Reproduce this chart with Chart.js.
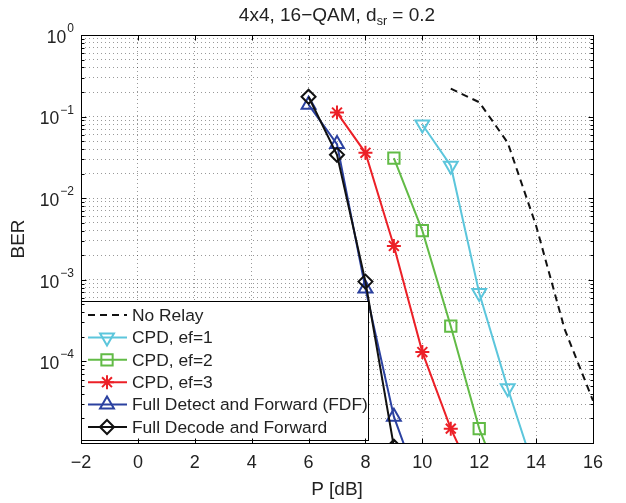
<!DOCTYPE html>
<html>
<head>
<meta charset="utf-8">
<script src="https://cdn.jsdelivr.net/npm/chart.js@4.4.1/dist/chart.umd.min.js"></script>
<style>
  html, body { margin: 0; padding: 0; background: #fff; }
  #wrap { width: 626px; height: 503px; }
</style>
</head>
<body>
<div id="wrap"><canvas id="berChart" width="626" height="503"></canvas></div>
<script>
// Valors llegits de la figura: BER per a cada potència P [dB]
const pNoRelay = [11, 12, 13, 14, 15, 16];
const berNoRelay = [0.22, 0.15, 0.048, 4.6e-3, 2.5e-4, 3.3e-5];

const pEf1 = [10, 11, 12, 13, 14];
const berEf1 = [0.08, 0.025, 6.9e-4, 4.7e-5, 4e-6];

const pEf2 = [9, 10, 11, 12, 13];
const berEf2 = [0.031, 4.0e-3, 2.7e-4, 1.5e-5, 2e-6];

const pEf3 = [7, 8, 9, 10, 11, 12];
const berEf3 = [0.112, 0.036, 2.6e-3, 1.3e-4, 1.5e-5, 2.7e-6];

const pFdf = [6, 7, 8, 9, 10];
const berFdf = [0.14, 0.046, 7.8e-4, 2.1e-5, 2.3e-6];

const pFdd = [6, 7, 8, 9];
const berFdd = [0.175, 0.034, 9.5e-4, 9e-6];

// Eixos
const xTicks = [-2, 0, 2, 4, 6, 8, 10, 12, 14, 16];
const yDecades = [0, -1, -2, -3, -4];

const noms = ['No Relay', 'CPD, ef=1', 'CPD, ef=2', 'CPD, ef=3',
  'Full Detect and Forward (FDF)', 'Full Decode and Forward'];

const FONT = '"Liberation Sans", Arial, Helvetica, sans-serif';
const TEXT = '#222';
const GRID = 'rgba(0,0,0,0.4)';

function punts(xs, ys) {
  return xs.map((x, i) => ({ x: x, y: ys[i] }));
}

// Llegenda, marc, etiquetes amb exponent i títol
const decoracio = {
  id: 'decoracio',
  afterDatasetsDraw(chart) {
    const { ctx, chartArea: a, scales: { x, y } } = chart;
    ctx.save();

    // llegenda dins de l'àrea
    const lx = a.left, ly = 301, lr = 368, lb = 440;
    ctx.setLineDash([]);
    ctx.fillStyle = '#fff';
    ctx.fillRect(lx, ly, lr - lx, lb - ly);
    ctx.strokeStyle = '#000';
    ctx.lineWidth = 1;
    ctx.strokeRect(lx + 0.5, ly + 0.5, lr - lx, lb - ly);
    chart.data.datasets.forEach((ds, i) => {
      const yy = ly + 14 + i * 22.4;
      ctx.save();
      ctx.strokeStyle = ds.borderColor;
      ctx.lineWidth = ds.borderWidth;
      ctx.setLineDash(ds.borderDash || []);
      ctx.beginPath();
      ctx.moveTo(lx + 7, yy);
      ctx.lineTo(lx + 46, yy);
      ctx.stroke();
      ctx.setLineDash([]);
      if (ds.pointRadius > 0) {
        ctx.fillStyle = 'rgba(0,0,0,0)';
        ctx.lineWidth = ds.pointBorderWidth;
        Chart.helpers.drawPoint(ctx, {
          pointStyle: ds.pointStyle,
          rotation: ds.pointRotation || 0,
          radius: ds.pointRadius,
          borderWidth: ds.pointBorderWidth
        }, lx + 26, yy);
      }
      ctx.restore();
      ctx.fillStyle = TEXT;
      ctx.font = '17.4px ' + FONT;
      ctx.textAlign = 'left';
      ctx.textBaseline = 'middle';
      ctx.fillText(ds.label, lx + 51, yy + 1);
    });

    // marc i marques cap a dins
    ctx.strokeStyle = '#000';
    ctx.lineWidth = 1;
    ctx.setLineDash([]);
    const L = Math.round(a.left) + 0.5, R = Math.round(a.right) + 0.5;
    const T = Math.round(a.top) + 0.5, B = Math.round(a.bottom) + 0.5;
    ctx.strokeRect(L, T, R - L, B - T);
    ctx.beginPath();
    xTicks.forEach(v => {
      const px = Math.round(x.getPixelForValue(v)) + 0.5;
      ctx.moveTo(px, B); ctx.lineTo(px, B - 5);
      ctx.moveTo(px, T); ctx.lineTo(px, T + 5);
    });
    y.ticks.forEach(t => {
      const py = Math.round(y.getPixelForValue(t.value)) + 0.5;
      const major = Math.abs(Math.log10(t.value) % 1) < 1e-9;
      const len = major ? 5 : 3;
      ctx.moveTo(L, py); ctx.lineTo(L + len, py);
      ctx.moveTo(R, py); ctx.lineTo(R - len, py);
    });
    ctx.stroke();

    // etiquetes de l'eix y: 10 amb exponent
    ctx.fillStyle = TEXT;
    yDecades.forEach(k => {
      const py = y.getPixelForValue(Math.pow(10, k));
      const exp = k < 0 ? '\u2212' + Math.abs(k) : String(k);
      ctx.font = '12px ' + FONT;
      const we = ctx.measureText(exp).width;
      ctx.textAlign = 'right';
      ctx.textBaseline = 'alphabetic';
      ctx.fillText(exp, 74, py - 3);
      ctx.font = '17.5px ' + FONT;
      ctx.textBaseline = 'middle';
      ctx.fillText('10', 74 - we - 1, py + 3);
    });

    // títol amb subíndex
    const parts = [['4x4, 16\u2212QAM, d', 19, 0], ['sr', 12.5, 4], [' = 0.2', 19, 0]];
    let total = 0;
    parts.forEach(p => { ctx.font = p[1] + 'px ' + FONT; total += ctx.measureText(p[0]).width; });
    let cx = (a.left + a.right) / 2 - total / 2;
    ctx.textAlign = 'left';
    ctx.textBaseline = 'alphabetic';
    parts.forEach(p => {
      ctx.font = p[1] + 'px ' + FONT;
      ctx.fillText(p[0], cx, 21 + p[2]);
      cx += ctx.measureText(p[0]).width;
    });

    ctx.restore();
  }
};

const canvas = document.getElementById('berChart');
new Chart(canvas.getContext('2d'), {
  type: 'line',
  data: {
    datasets: [
      {
        label: noms[0], data: punts(pNoRelay, berNoRelay),
        borderColor: '#111', borderWidth: 2, borderDash: [7, 5],
        pointRadius: 0, order: 5
      },
      {
        label: noms[1], data: punts(pEf1, berEf1),
        borderColor: '#5cc6dc', borderWidth: 2,
        pointStyle: 'triangle', pointRotation: 180, pointRadius: 8,
        pointBorderWidth: 2, pointBackgroundColor: 'rgba(0,0,0,0)', order: 4
      },
      {
        label: noms[2], data: punts(pEf2, berEf2),
        borderColor: '#62bb46', borderWidth: 2,
        pointStyle: 'rect', pointRadius: 8,
        pointBorderWidth: 2, pointBackgroundColor: 'rgba(0,0,0,0)', order: 3
      },
      {
        label: noms[3], data: punts(pEf3, berEf3),
        borderColor: '#ec2027', borderWidth: 2,
        pointStyle: 'star', pointRadius: 7,
        pointBorderWidth: 2, pointBackgroundColor: 'rgba(0,0,0,0)', order: 2
      },
      {
        label: noms[4], data: punts(pFdf, berFdf),
        borderColor: '#2b41a0', borderWidth: 2,
        pointStyle: 'triangle', pointRadius: 8,
        pointBorderWidth: 2, pointBackgroundColor: 'rgba(0,0,0,0)', order: 1
      },
      {
        label: noms[5], data: punts(pFdd, berFdd),
        borderColor: '#111', borderWidth: 2,
        pointStyle: 'rectRot', pointRadius: 7,
        pointBorderWidth: 2, pointBackgroundColor: 'rgba(0,0,0,0)', order: 0
      }
    ]
  },
  options: {
    responsive: false,
    devicePixelRatio: 1,
    animation: false,
    layout: { padding: { top: 35, right: 33, bottom: 0, left: 0 } },
    scales: {
      x: {
        type: 'linear', min: -2, max: 16,
        afterBuildTicks: s => { s.ticks = xTicks.map(v => ({ value: v })); },
        afterFit: s => { s.height = 60; },
        ticks: {
          padding: 9,
          font: { size: 18, family: FONT }, color: TEXT,
          maxRotation: 0,
          callback: v => (v < 0 ? '\u2212' + Math.abs(v) : String(v))
        },
        grid: { color: GRID, lineWidth: 1, drawTicks: false },
        border: { display: false, dash: [1, 3] },
        title: {
          display: true, text: 'P [dB]', color: TEXT,
          font: { size: 19, family: FONT }, padding: { top: 0, bottom: 2 }
        }
      },
      y: {
        type: 'logarithmic', min: 1e-5, max: 1,
        afterBuildTicks: s => {
          const t = [];
          for (let k = -5; k < 0; k++) {
            for (let m = 1; m < 10; m++) t.push({ value: m * Math.pow(10, k) });
          }
          t.push({ value: 1 });
          s.ticks = t;
        },
        afterFit: s => { s.width = 81; },
        ticks: { display: false },
        grid: { color: GRID, lineWidth: 1, drawTicks: false },
        border: { display: false, dash: [1, 3] },
        title: {
          display: true, text: 'BER', color: TEXT,
          font: { size: 19, family: FONT }, padding: { top: 7, bottom: 0 }
        }
      }
    },
    plugins: {
      legend: { display: false },
      title: { display: false },
      tooltip: { enabled: false }
    }
  },
  plugins: [decoracio]
});
</script>
</body>
</html>
